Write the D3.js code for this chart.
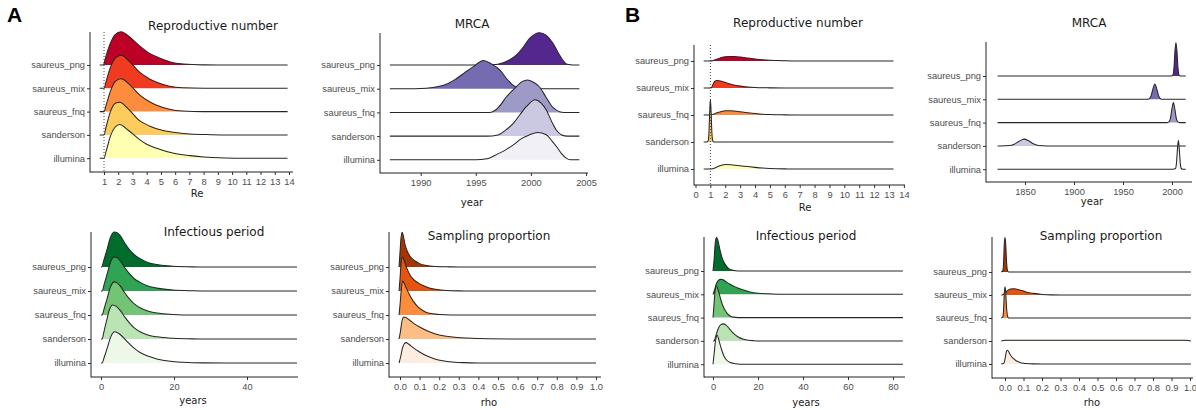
<!DOCTYPE html>
<html>
<head>
<meta charset="utf-8">
<script src="https://cdn.jsdelivr.net/npm/d3@7"></script>
<style>
  body { margin: 0; background: #fff; }
  svg { display: block; }
</style>
</head>
<body>
<svg id="chart" width="1196" height="410"></svg>
<script>
// rows, top to bottom
const samples = ["saureus_png", "saureus_mix", "saureus_fnq", "sanderson", "illumina"];

// ridge heights are [x, height] pairs, height in units of the row spacing
// --- A: reproductive number
const reRangeA = [0.7, 13.9];
const reTicksA = [1, 2, 3, 4, 5, 6, 7, 8, 9, 10, 11, 12, 13, 14];
const reA = [
  [[0.95,0],[1.1,0.3],[1.4,0.86],[1.77,1.29],[2.2,1.43],[2.8,1.2],[3.5,0.82],[4.2,0.5],[4.9,0.3],[5.6,0.14],[6.6,0.04],[8,0.005],[9,0]],
  [[1.0,0],[1.15,0.3],[1.45,0.9],[1.8,1.3],[2.2,1.42],[2.8,1.15],[3.5,0.69],[4.2,0.4],[4.7,0.26],[5.6,0.09],[6.5,0.02],[8,0]],
  [[1.0,0],[1.15,0.28],[1.45,0.88],[1.8,1.3],[2.2,1.41],[2.8,1.16],[3.5,0.72],[4.2,0.42],[4.7,0.27],[5.6,0.1],[6.5,0.025],[8,0]],
  [[1.0,0],[1.15,0.35],[1.45,1.0],[1.8,1.36],[2.1,1.4],[2.7,1.12],[3.5,0.61],[4.2,0.38],[4.7,0.26],[5.9,0.11],[7,0.04],[8.5,0.01],[10,0]],
  [[1.0,0],[1.15,0.3],[1.45,0.95],[1.8,1.35],[2.1,1.45],[2.7,1.2],[3.5,0.8],[4.0,0.6],[4.7,0.43],[5.9,0.21],[7.05,0.11],[8,0.05],[9.5,0.01],[11,0]]
];

// --- A: MRCA
const mrcaRangeA = [1987.2, 2004.4];
const mrcaTicksA = [1990, 1995, 2000, 2005];
const mrcaA = [
  [[1996,0],[1997,0.03],[1998,0.2],[1998.7,0.43],[1999.3,0.75],[1999.9,1.13],[2000.8,1.36],[2001.4,1.25],[2002,0.92],[2002.5,0.5],[2002.9,0.2],[2003.3,0.03],[2003.8,0]],
  [[1989.5,0],[1990.5,0.02],[1991.5,0.08],[1992.5,0.22],[1993.25,0.43],[1994,0.68],[1994.75,0.92],[1995.7,1.19],[1996.4,1.05],[1997.2,0.78],[1997.8,0.42],[1998.4,0.14],[1999,0.02],[1999.5,0]],
  [[1996.3,0],[1996.8,0.1],[1997.3,0.35],[1997.75,0.64],[1998.5,1.0],[1999.2,1.3],[1999.7,1.37],[2000.2,1.28],[2000.8,1.06],[2001.4,0.62],[2002,0.21],[2002.6,0.03],[2003,0]],
  [[1996,0],[1997,0.05],[1997.7,0.25],[1998.4,0.54],[1999,0.9],[1999.6,1.25],[2000.4,1.53],[2000.9,1.4],[2001.4,1.1],[2001.9,0.6],[2002.3,0.26],[2002.8,0.05],[2003.3,0]],
  [[1995,0],[1996,0.04],[1997,0.25],[1997.75,0.43],[1998.5,0.66],[1999,0.85],[1999.9,1.06],[2000.6,1.15],[2001.4,1.06],[2001.9,0.8],[2002.3,0.57],[2002.8,0.25],[2003.2,0.07],[2003.6,0]]
];

// --- A: infectious period
const infRangeA = [0, 53.7];
const infTicksA = [0, 20, 40];
const infA = [
  [[0.2,0],[0.8,0.3],[1.6,0.7],[2.5,1.2],[3.6,1.46],[4.5,1.42],[5.2,1.32],[6.5,1.0],[7.9,0.7],[9.2,0.5],[10.7,0.35],[13,0.18],[15.3,0.1],[19.7,0.03],[25,0.005],[30,0]],
  [[0.3,0],[0.9,0.3],[1.7,0.72],[2.6,1.2],[3.6,1.42],[4.5,1.38],[5.3,1.25],[6.5,0.98],[7.9,0.7],[9.2,0.5],[10.7,0.36],[13,0.2],[15.3,0.12],[19.7,0.04],[25,0.01],[30,0]],
  [[0.3,0],[0.9,0.28],[1.7,0.7],[2.6,1.17],[3.6,1.38],[4.5,1.33],[5.3,1.2],[6.5,0.93],[7.9,0.65],[9.2,0.45],[10.7,0.3],[13,0.16],[15.3,0.08],[19.7,0.025],[25,0]],
  [[0.3,0],[0.8,0.3],[1.5,0.75],[2.3,1.22],[3.2,1.42],[4.2,1.36],[5.2,1.2],[6.5,0.92],[7.9,0.65],[9.2,0.45],[10.7,0.3],[13,0.16],[15.3,0.09],[19.7,0.03],[25,0.005],[30,0]],
  [[0.3,0],[0.9,0.25],[1.7,0.62],[2.7,1.1],[3.8,1.3],[5,1.22],[7,0.92],[8.8,0.65],[10.7,0.44],[13,0.28],[15.3,0.17],[19,0.07],[22.5,0.03],[28,0.005],[34,0]]
];

// --- A: sampling proportion
const rhoRangeA = [-0.005, 1.0];
const rhoTicks = [0.0, 0.1, 0.2, 0.3, 0.4, 0.5, 0.6, 0.7, 0.8, 0.9, 1.0];
const rhoA = [
  [[-0.005,0],[0.0,0.6],[0.005,1.2],[0.011,1.45],[0.017,1.3],[0.025,0.95],[0.035,0.7],[0.051,0.45],[0.077,0.25],[0.1,0.14],[0.128,0.07],[0.18,0.02],[0.25,0.005],[0.3,0]],
  [[-0.005,0],[0.0,0.5],[0.005,1.1],[0.012,1.42],[0.02,1.3],[0.03,1.05],[0.04,0.85],[0.051,0.67],[0.07,0.47],[0.094,0.33],[0.12,0.22],[0.145,0.14],[0.18,0.07],[0.22,0.03],[0.3,0.005],[0.4,0]],
  [[-0.005,0],[0.0,0.4],[0.006,1.0],[0.013,1.42],[0.02,1.35],[0.03,1.15],[0.045,0.9],[0.066,0.6],[0.09,0.35],[0.12,0.17],[0.15,0.07],[0.2,0.02],[0.26,0]],
  [[-0.005,0],[0.002,0.3],[0.01,0.75],[0.02,0.92],[0.03,0.9],[0.05,0.78],[0.075,0.62],[0.1,0.5],[0.15,0.3],[0.2,0.17],[0.27,0.08],[0.34,0.04],[0.45,0.01],[0.6,0]],
  [[-0.005,0],[0.003,0.25],[0.012,0.6],[0.022,0.8],[0.031,0.85],[0.045,0.78],[0.07,0.62],[0.1,0.46],[0.13,0.32],[0.17,0.19],[0.21,0.1],[0.255,0.05],[0.32,0.015],[0.4,0]]
];

// --- B: reproductive number
const reRangeB = [0.55, 13.3];
const reTicksB = [0, 1, 2, 3, 4, 5, 6, 7, 8, 9, 10, 11, 12, 13, 14];
const reB = [
  [[1.0,0],[1.1,0.005],[1.2,0.02],[1.3,0.04],[1.5,0.08],[1.75,0.13],[2.0,0.16],[2.3,0.17],[2.6,0.165],[3.0,0.145],[3.5,0.11],[4.0,0.075],[4.5,0.045],[5.0,0.025],[6.0,0.007],[7,0]],
  [[1.0,0],[1.05,0.01],[1.1,0.04],[1.15,0.1],[1.2,0.16],[1.3,0.25],[1.45,0.28],[1.75,0.25],[2.0,0.2],[2.5,0.12],[3.0,0.07],[3.5,0.04],[4.0,0.02],[4.5,0.01],[5.0,0.005],[6,0]],
  [[1.0,0],[1.1,0.01],[1.2,0.03],[1.3,0.05],[1.5,0.09],[1.75,0.13],[2.0,0.155],[2.3,0.16],[2.6,0.15],[3.0,0.12],[3.5,0.085],[4.0,0.055],[4.5,0.03],[5.0,0.015],[6,0.005],[7,0]],
  [[0.75,0],[0.8,0.005],[0.85,0.05],[0.9,0.3],[0.95,1.05],[1.0,1.58],[1.05,1.1],[1.1,0.35],[1.15,0.07],[1.2,0.01],[1.3,0]],
  [[1.05,0],[1.1,0.005],[1.2,0.02],[1.3,0.04],[1.5,0.09],[1.75,0.14],[2.0,0.17],[2.5,0.15],[3.0,0.12],[3.5,0.09],[4.0,0.06],[4.5,0.035],[5.0,0.02],[6.0,0.005],[7,0]]
];

// --- B: MRCA
const mrcaRangeB = [1822, 2014];
const mrcaTicksB = [1850, 1900, 1950, 2000];
const mrcaB = [
  [[1999,0],[2001,0.05],[2002,0.35],[2003,1.05],[2004,1.43],[2005,1.1],[2006,0.4],[2007,0.06],[2008,0]],
  [[1975,0],[1976.5,0.02],[1978.5,0.13],[1980.5,0.44],[1982.5,0.66],[1984.5,0.44],[1986.5,0.13],[1988.5,0.02],[1990,0]],
  [[1995,0],[1996.9,0.03],[1998.4,0.18],[1999.9,0.58],[2001.4,0.86],[2002.9,0.58],[2004.4,0.18],[2005.9,0.03],[2008,0]],
  [[1825,0],[1834,0.013],[1839,0.07],[1844,0.2],[1849,0.29],[1854,0.21],[1859,0.08],[1864,0.018],[1872,0]],
  [[2001,0],[2003.5,0.03],[2004.5,0.24],[2005.5,0.82],[2006.5,1.24],[2007.5,0.82],[2008.5,0.24],[2009.5,0.03],[2011,0]]
];

// --- B: infectious period
const infRangeB = [0, 84.4];
const infTicksB = [0, 20, 40, 60, 80];
const infB = [
  [[0,0],[0.5,0.5],[1.0,1.2],[1.6,1.45],[2.2,1.3],[3,0.95],[3.9,0.61],[5,0.35],[6.1,0.19],[7.2,0.09],[8.3,0.04],[10,0.01],[12,0]],
  [[0,0],[0.7,0.2],[1.5,0.45],[2.4,0.6],[3.4,0.64],[4.5,0.62],[6,0.52],[7.5,0.43],[9,0.36],[11,0.27],[13.5,0.18],[16.4,0.1],[20,0.045],[24,0.02],[30,0.005],[36,0]],
  [[0,0],[0.4,0.5],[0.9,1.1],[1.5,1.36],[2.2,1.2],[3.1,0.9],[4.2,0.55],[5.3,0.33],[6.5,0.16],[7.6,0.07],[9,0.02],[11,0]],
  [[0.5,0],[1.2,0.2],[2.4,0.54],[3.5,0.7],[4.6,0.73],[5.8,0.68],[7.3,0.52],[9,0.33],[11,0.18],[13.5,0.07],[16,0.025],[18,0.01],[21,0]],
  [[0,0],[0.5,0.45],[1.2,1.05],[1.9,1.24],[2.7,1.0],[3.9,0.6],[5,0.32],[6.1,0.17],[7.5,0.08],[9,0.04],[11,0.01],[13,0]]
];

// --- B: sampling proportion
const rhoRangeB = [-0.02, 1.005];
const rhoB = [
  [[-0.02,0],[-0.012,0.05],[-0.008,0.35],[-0.004,1.2],[0,1.5],[0.004,1.2],[0.008,0.5],[0.012,0.12],[0.016,0.02],[0.02,0]],
  [[-0.015,0],[0,0.08],[0.015,0.2],[0.03,0.26],[0.05,0.27],[0.07,0.24],[0.1,0.17],[0.13,0.1],[0.153,0.07],[0.2,0.025],[0.25,0.005],[0.3,0]],
  [[-0.02,0],[-0.012,0.05],[-0.008,0.3],[-0.004,1.05],[0,1.36],[0.004,1.1],[0.008,0.5],[0.012,0.15],[0.016,0.03],[0.02,0]],
  [[-0.02,0],[0.0,0.03],[0.5,0.035],[0.98,0.03],[1.005,0]],
  [[-0.02,0],[-0.005,0.05],[0.002,0.3],[0.008,0.55],[0.014,0.6],[0.022,0.5],[0.032,0.36],[0.045,0.24],[0.06,0.14],[0.081,0.07],[0.1,0.035],[0.117,0.02],[0.15,0.005],[0.2,0]]
];

// palettes (png → illumina)
const ylOrRd  = ["#bd0026", "#f03b20", "#fd8d3c", "#fecc5c", "#ffffb2"];
const purples = ["#54278f", "#756bb1", "#9e9ac8", "#cbc9e2", "#f2f0f7"];
const greens  = ["#006d2c", "#31a354", "#74c476", "#bae4b3", "#edf8e9"];
const oranges = ["#a63603", "#e6550d", "#fd8d3c", "#fdbe85", "#feedde"];

const intFmt = d3.format("d");
const rhoFmt = d3.format(".1f");

const panels = [
  { data: reA, range: reRangeA, ticks: reTicksA, fmt: intFmt, pal: ylOrRd, title: "Reproductive number", xlab: "Re",
    axisX: 90, right: 293, top: 32, bottom: 172, dom: [1, 14], px: [104, 289], base0: 65, step: 23.3,
    titleX: 213, titleY: 30, xlabX: 197, xlabY: 197, vline: 1 },
  { data: mrcaA, range: mrcaRangeA, ticks: mrcaTicksA, fmt: intFmt, pal: purples, title: "MRCA", xlab: "year",
    axisX: 380, right: 588, top: 33, bottom: 173, dom: [1990, 2005], px: [420.7, 586], base0: 65, step: 23.7,
    titleX: 472, titleY: 28, xlabX: 472, xlabY: 206 },
  { data: infA, range: infRangeA, ticks: infTicksA, fmt: intFmt, pal: greens, title: "Infectious period", xlab: "years",
    axisX: 91, right: 298, top: 232, bottom: 377, dom: [0, 40], px: [101, 247], base0: 267, step: 24,
    titleX: 214, titleY: 236, xlabX: 193, xlabY: 404 },
  { data: rhoA, range: rhoRangeA, ticks: rhoTicks, fmt: rhoFmt, pal: oranges, title: "Sampling proportion", xlab: "rho",
    axisX: 389, right: 601, top: 232, bottom: 377, dom: [0, 1], px: [400, 596], base0: 267, step: 24,
    titleX: 489, titleY: 240, xlabX: 489, xlabY: 406 },
  { data: reB, range: reRangeB, ticks: reTicksB, fmt: intFmt, pal: ylOrRd, title: "Reproductive number", xlab: "Re",
    axisX: 694, right: 905, top: 45, bottom: 185, dom: [0, 13], px: [695.5, 889], base0: 61, step: 27,
    titleX: 798, titleY: 27, xlabX: 805, xlabY: 211, vline: 1 },
  { data: mrcaB, range: mrcaRangeB, ticks: mrcaTicksB, fmt: intFmt, pal: purples, title: "MRCA", xlab: "year",
    axisX: 986, right: 1192, top: 42, bottom: 182, dom: [1850, 2000], px: [1025, 1172], base0: 76, step: 23.3,
    titleX: 1089, titleY: 27, xlabX: 1092, xlabY: 205 },
  { data: infB, range: infRangeB, ticks: infTicksB, fmt: intFmt, pal: greens, title: "Infectious period", xlab: "years",
    axisX: 704, right: 905, top: 237, bottom: 377, dom: [0, 80], px: [713, 893], base0: 271, step: 23.3,
    titleX: 806, titleY: 240, xlabX: 806, xlabY: 406 },
  { data: rhoB, range: rhoRangeB, ticks: rhoTicks, fmt: rhoFmt, pal: oranges, title: "Sampling proportion", xlab: "rho",
    axisX: 992, right: 1193, top: 237, bottom: 378, dom: [0, 1], px: [1005, 1190], base0: 272, step: 23,
    titleX: 1101, titleY: 240, xlabX: 1092, xlabY: 406 }
];

const svg = d3.select("#chart");
const tickFont = "'Liberation Sans', Arial, sans-serif";
const titleFont = "'DejaVu Sans', sans-serif";

panels.forEach(p => {
  const x = d3.scaleLinear().domain(p.dom).range(p.px);
  const y = d3.scalePoint().domain(samples).range([p.base0, p.base0 + 4 * p.step]);
  const g = svg.append("g");

  // ridges, top row first so lower rows overlap it
  p.data.forEach((pts, i) => {
    const base = y(samples[i]);
    let full = pts.slice();
    if (full[0][0] > p.range[0]) full.unshift([p.range[0], 0]);
    if (full[full.length - 1][0] < p.range[1]) full.push([p.range[1], 0]);

    const area = d3.area()
      .x(d => x(d[0]))
      .y0(base)
      .y1(d => base - d[1] * p.step)
      .curve(d3.curveMonotoneX);
    const line = d3.line()
      .x(d => x(d[0]))
      .y(d => base - d[1] * p.step)
      .curve(d3.curveMonotoneX);

    g.append("path").attr("d", area(full)).attr("fill", p.pal[i]);
    g.append("path").attr("d", line(full))
      .attr("fill", "none")
      .attr("stroke", "#262626")
      .attr("stroke-width", 1.05);
  });

  // dotted reference line at Re = 1
  if (p.vline !== undefined) {
    g.append("line")
      .attr("x1", x(p.vline)).attr("x2", x(p.vline))
      .attr("y1", p.top).attr("y2", p.bottom)
      .attr("stroke", "#333")
      .attr("stroke-width", 0.9)
      .attr("stroke-dasharray", "1,2");
  }

  // x axis
  const xa = g.append("g")
    .attr("transform", `translate(0,${p.bottom})`)
    .call(d3.axisBottom(x).tickValues(p.ticks).tickFormat(p.fmt)
      .tickSize(3).tickPadding(3).tickSizeOuter(0));
  xa.select(".domain").remove();

  // y axis
  const ya = g.append("g")
    .attr("transform", `translate(${p.axisX},0)`)
    .call(d3.axisLeft(y).tickSize(3).tickPadding(2).tickSizeOuter(0));
  ya.select(".domain").remove();

  [xa, ya].forEach(a => {
    a.selectAll(".tick line").attr("stroke", "#333");
    a.selectAll(".tick text")
      .style("font-family", tickFont)
      .style("font-size", "9.3px")
      .attr("fill", "#4d4d4d");
  });

  // axis lines (classic theme)
  g.append("line")
    .attr("x1", p.axisX).attr("x2", p.right)
    .attr("y1", p.bottom).attr("y2", p.bottom)
    .attr("stroke", "#222").attr("stroke-width", 1);
  g.append("line")
    .attr("x1", p.axisX).attr("x2", p.axisX)
    .attr("y1", p.top).attr("y2", p.bottom + 0.5)
    .attr("stroke", "#222").attr("stroke-width", 1);

  // titles
  g.append("text")
    .attr("x", p.titleX).attr("y", p.titleY)
    .attr("text-anchor", "middle")
    .style("font-family", titleFont)
    .style("font-size", "12px")
    .attr("fill", "#1a1a1a")
    .text(p.title);

  g.append("text")
    .attr("x", p.xlabX).attr("y", p.xlabY)
    .attr("text-anchor", "middle")
    .style("font-family", titleFont)
    .style("font-size", "10px")
    .attr("fill", "#1a1a1a")
    .text(p.xlab);
});

// panel letters
svg.append("text")
  .attr("x", 7).attr("y", 22)
  .style("font-family", tickFont)
  .style("font-size", "21px")
  .style("font-weight", "700")
  .text("A");

svg.append("text")
  .attr("x", 625).attr("y", 22)
  .style("font-family", tickFont)
  .style("font-size", "21px")
  .style("font-weight", "700")
  .text("B");
</script>
</body>
</html>
